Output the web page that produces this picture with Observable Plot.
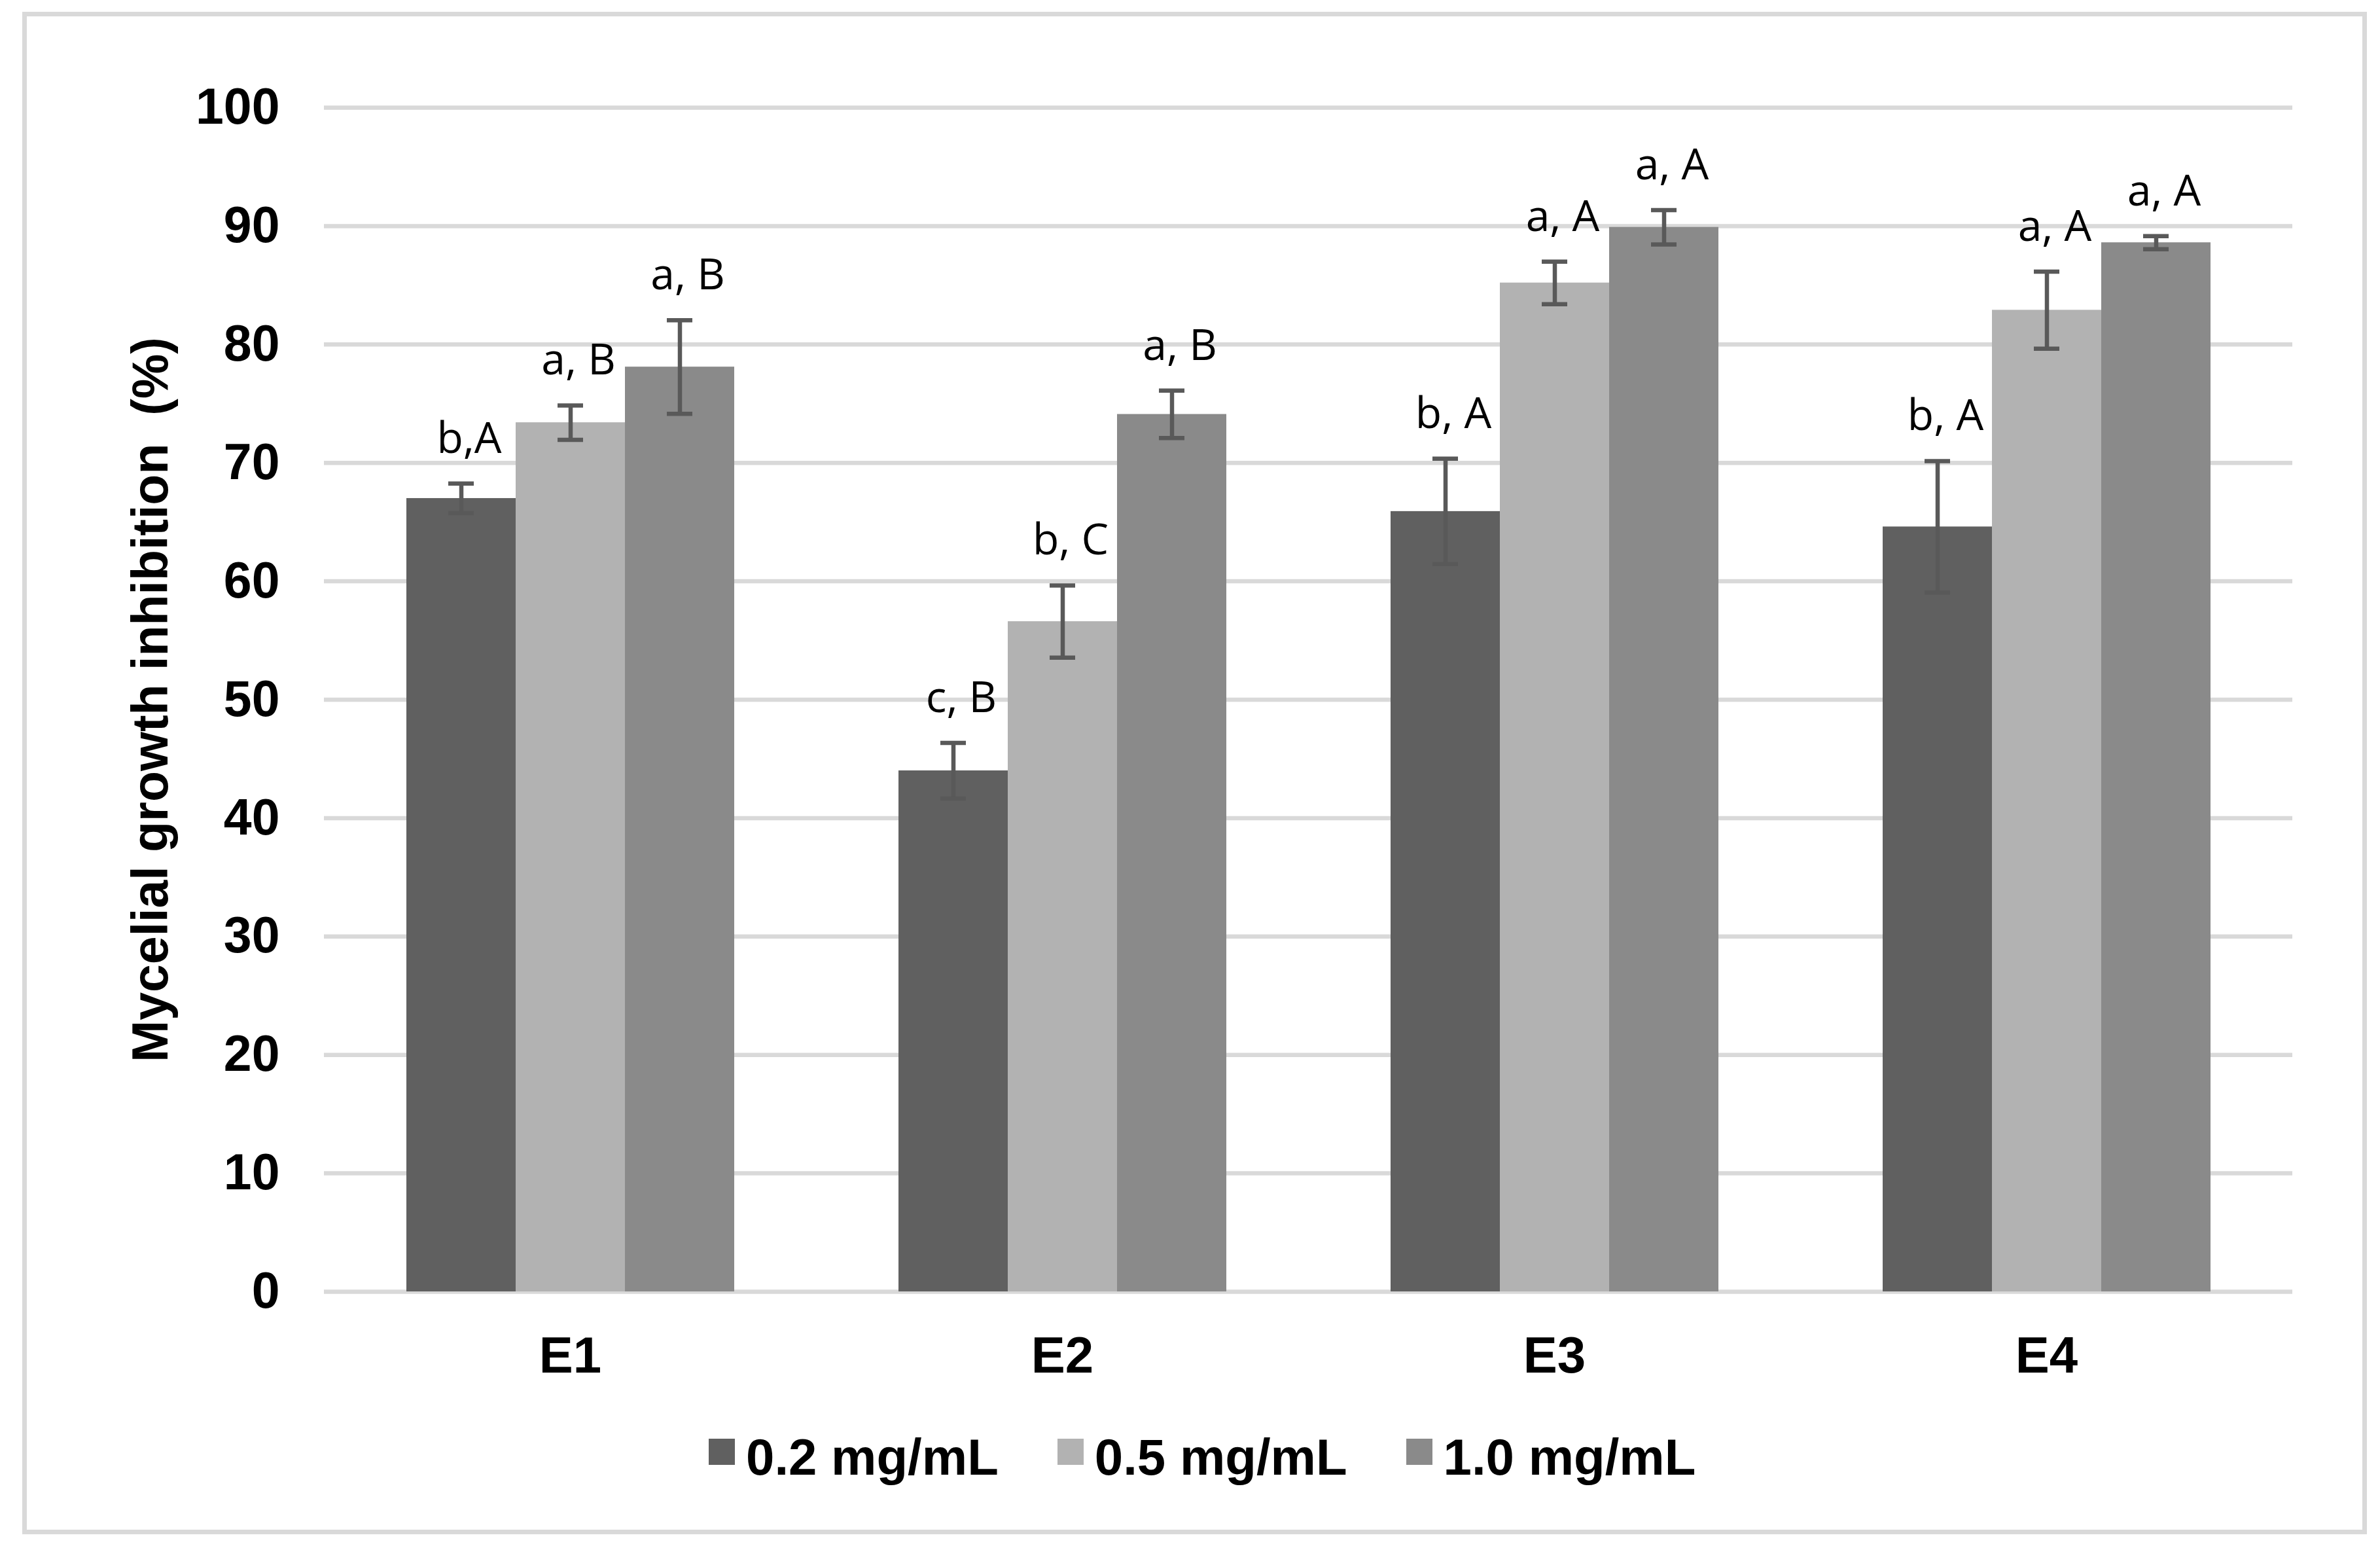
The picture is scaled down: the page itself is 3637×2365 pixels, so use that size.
<!DOCTYPE html>
<html>
<head>
<meta charset="utf-8">
<script src="https://cdn.jsdelivr.net/npm/d3@7"></script>
<script src="https://cdn.jsdelivr.net/npm/@observablehq/plot@0.6"></script>
<style>
  html, body { margin: 0; padding: 0; background: #fff; }
  #frame { position: absolute; left: 34px; top: 18px; width: 3569px; height: 2312px; border: 7px solid #d9d9d9; background: #fff; }
  #chart { position: absolute; left: 0; top: 0; }
  #legend { position: absolute; left: 1042px; top: 2162px; }
  #legend > div { font-family: "Liberation Sans", Arial, sans-serif; font-size: 78px; font-weight: bold; line-height: 78px; margin: 0; min-height: 0; flex-wrap: nowrap; color: #000; }
  #legend > div > *:not(style) { margin-right: 90px; display: inline-flex; align-items: center; }
  #legend > div > *:not(style) > svg { margin-right: 17px; margin-bottom: 16px; }
</style>
</head>
<body>
<div id="frame">
  <div id="chart"></div>
  <div id="legend"></div>
</div>
<script>
// ---- data ----
const categories = ["E1", "E2", "E3", "E4"];
const series = ["0.2 mg/mL", "0.5 mg/mL", "1.0 mg/mL"];
const inhibition02 = [67.0, 44.0, 65.9, 64.6];
const inhibition05 = [73.4, 56.6, 85.2, 82.9];
const inhibition10 = [78.1, 74.1, 89.9, 88.6];
const error02 = [1.25, 2.35, 4.45, 5.55];
const error05 = [1.45, 3.05, 1.8, 3.25];
const error10 = [3.95, 2.0, 1.45, 0.55];
const letters02 = ["b,A", "c, B", "b, A", "b, A"];
const letters05 = ["a, B", "b, C", "a, A", "a, A"];
const letters10 = ["a, B", "a, B", "a, A", "a, A"];
const yTicks = [0, 10, 20, 30, 40, 50, 60, 70, 80, 90, 100];
const seriesColors = ["#606060", "#b2b2b2", "#8a8a8a"];
const yTitle = "Mycelial growth inhibition\u00a0 (%)";

// ---- table built from the arrays ----
const valueSets = [inhibition02, inhibition05, inhibition10];
const errorSets = [error02, error05, error10];
const letterSets = [letters02, letters05, letters10];
const rows = [];
series.forEach((s, j) => {
  categories.forEach((c, i) => {
    rows.push({category: c, series: s, value: valueSets[j][i], error: errorSets[j][i], letter: letterSets[j][i]});
  });
});

const errColor = "#595959";

const chart = Plot.plot({
  width: 3569,
  height: 2115,
  marginLeft: 452,
  marginRight: 106,
  marginTop: 139,
  marginBottom: 167,
  style: {fontFamily: "'Liberation Sans', Arial, sans-serif", fontSize: "78px", fontWeight: "bold", color: "#000", background: "#fff", overflow: "visible"},
  fx: {domain: categories, paddingInner: 0, paddingOuter: 0, label: null},
  x: {domain: series, paddingInner: 0, paddingOuter: 0.745, axis: null},
  y: {domain: [0, 100]},
  color: {domain: series, range: seriesColors},
  marks: [
    Plot.ruleY(yTicks, {stroke: "#d9d9d9", strokeWidth: 6.5}),
    Plot.barY(rows, {fx: "category", x: "series", y: "value", fill: "series"}),
    Plot.ruleX(rows, {fx: "category", x: "series", y1: d => d.value - d.error, y2: d => d.value + d.error, stroke: errColor, strokeWidth: 6.5}),
    Plot.tickY(rows, {fx: "category", x: "series", y: d => d.value + d.error, stroke: errColor, strokeWidth: 6.5, insetLeft: 64, insetRight: 64}),
    Plot.tickY(rows, {fx: "category", x: "series", y: d => d.value - d.error, stroke: errColor, strokeWidth: 6.5, insetLeft: 64, insetRight: 64}),
    Plot.text(rows, {fx: "category", x: "series", y: d => d.value + d.error, text: "letter", lineAnchor: "bottom", dy: -47, dx: 12, fontFamily: "'Open Sans', sans-serif", fontSize: 66, fontWeight: "normal", fill: "#000"}),
    Plot.axisY({ticks: yTicks, tickSize: 0, tickPadding: 68, label: yTitle, labelAnchor: "center", labelOffset: 294, labelArrow: "none", fontSize: 77}),
    Plot.axisFx({anchor: "bottom", tickSize: 0, tickPadding: 68, label: null, fontSize: 78})
  ]
});
document.getElementById("chart").appendChild(chart);

const legend = Plot.legend({color: {type: "ordinal", domain: series, range: seriesColors}, swatchSize: 40, className: "lg"});
document.getElementById("legend").appendChild(legend);
</script>
</body>
</html>
